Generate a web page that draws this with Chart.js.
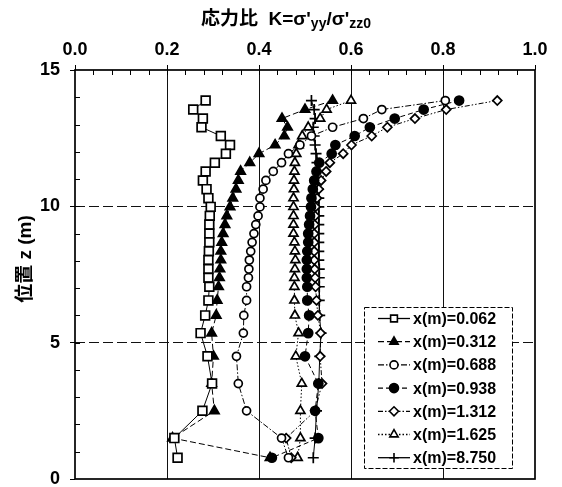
<!DOCTYPE html>
<html><head><meta charset="utf-8">
<script src="https://cdn.jsdelivr.net/npm/chart.js@4/dist/chart.umd.min.js"></script>
<style>html,body{margin:0;padding:0;background:#fff}canvas{display:block}</style>
</head><body>
<canvas id="c" width="562" height="487"></canvas>
<script>
// ---- data ----
const zPos = [13.88, 13.55, 13.22, 12.9, 12.58, 12.25, 11.93, 11.6, 11.28, 10.95, 10.63, 10.3, 9.98, 9.65, 9.33, 9.0, 8.68, 8.35, 8.03, 7.7, 7.38, 7.05, 6.55, 6.0, 5.35, 4.5, 3.5, 2.5, 1.5, 0.78];
const k_0062 = [0.284, 0.257, 0.278, 0.275, 0.317, 0.337, 0.328, 0.304, 0.284, 0.278, 0.286, 0.290, 0.295, 0.293, 0.292, 0.292, 0.292, 0.291, 0.290, 0.290, 0.290, 0.292, 0.290, 0.283, 0.273, 0.288, 0.298, 0.277, 0.216, 0.223];
const k_0312 = [0.560, 0.500, 0.450, 0.462, 0.455, 0.435, 0.400, 0.380, 0.360, 0.355, 0.350, 0.343, 0.337, 0.330, 0.326, 0.322, 0.319, 0.317, 0.317, 0.315, 0.314, 0.312, 0.309, 0.307, 0.297, 0.301, 0.297, 0.303, 0.212, 0.424];
const k_0688 = [0.805, 0.667, 0.627, 0.560, 0.514, 0.489, 0.464, 0.449, 0.431, 0.415, 0.409, 0.402, 0.402, 0.398, 0.393, 0.389, 0.385, 0.382, 0.379, 0.378, 0.377, 0.373, 0.373, 0.367, 0.366, 0.351, 0.355, 0.373, 0.449, 0.464];
const k_0938 = [0.835, 0.758, 0.695, 0.641, 0.608, 0.566, 0.558, 0.531, 0.525, 0.520, 0.517, 0.514, 0.513, 0.511, 0.509, 0.507, 0.507, 0.505, 0.504, 0.504, 0.504, 0.505, 0.505, 0.509, 0.507, 0.500, 0.529, 0.522, 0.529, 0.428];
const k_1312 = [0.918, 0.807, 0.739, 0.679, 0.645, 0.601, 0.583, 0.554, 0.546, 0.535, 0.530, 0.526, 0.523, 0.522, 0.521, 0.520, 0.520, 0.520, 0.520, 0.521, 0.522, 0.523, 0.525, 0.528, 0.534, 0.533, 0.537, 0.522, 0.459, 0.470];
const k_1625 = [0.600, 0.547, 0.533, 0.507, 0.494, 0.486, 0.481, 0.478, 0.477, 0.476, 0.476, 0.475, 0.475, 0.475, 0.475, 0.475, 0.477, 0.478, 0.479, 0.478, 0.477, 0.477, 0.477, 0.478, 0.486, 0.480, 0.493, 0.490, 0.490, 0.484];
const k_8750 = [0.514, 0.520, 0.522, 0.518, 0.520, 0.522, 0.524, 0.526, 0.527, 0.528, 0.529, 0.530, 0.530, 0.530, 0.530, 0.530, 0.530, 0.530, 0.530, 0.531, 0.531, 0.531, 0.531, 0.532, 0.535, 0.532, 0.530, 0.525, 0.522, 0.518];
const seriesLabels = ['x(m)=0.062', 'x(m)=0.312', 'x(m)=0.688', 'x(m)=0.938', 'x(m)=1.312', 'x(m)=1.625', 'x(m)=8.750'];
const xTickLabels = ['0.0', '0.2', '0.4', '0.6', '0.8', '1.0'];
const yTickLabels = ['0', '5', '10', '15'];
const yTitle = '位置 z (m)';

// ---- styles ----
const styles = [
  {pointStyle:'rect', radius:6.2, fill:'#fff', dash:[]},
  {pointStyle:'triangle', radius:5.4, fill:'#000', dash:[6,3]},
  {pointStyle:'circle', radius:4, fill:'#fff', dash:[6,2,1.5,2]},
  {pointStyle:'circle', radius:4.5, fill:'#000', dash:[5,3]},
  {pointStyle:'rectRot', radius:4.5, fill:'#fff', dash:[5,2,1.5,2,1.5,2]},
  {pointStyle:'triangle', radius:5.2, fill:'#fff', dash:[1.5,2]},
  {pointStyle:'cross', radius:5.5, fill:'#000', dash:[]}
];
const allK = [k_0062, k_0312, k_0688, k_0938, k_1312, k_1625, k_8750];

const datasets = allK.map((arr, i) => ({
  label: seriesLabels[i],
  data: arr.map((k, j) => ({x: k, y: zPos[j]})),
  showLine: true,
  borderColor: '#000',
  borderWidth: 1,
  borderDash: styles[i].dash,
  pointStyle: styles[i].pointStyle,
  pointRadius: styles[i].radius,
  pointBackgroundColor: styles[i].fill,
  pointBorderColor: '#000',
  pointBorderWidth: 1.7,
  tension: 0
}));

const FONT = '"Liberation Sans", Arial, "Noto Sans CJK JP", sans-serif';

function drawMarker(ctx, st, x, y) {
  ctx.save();
  ctx.fillStyle = st.fill; ctx.strokeStyle = '#000'; ctx.lineWidth = 1.6; ctx.setLineDash([]);
  if (Chart.helpers && Chart.helpers.drawPoint) {
    Chart.helpers.drawPoint(ctx, {pointStyle: st.pointStyle, radius: Math.min(st.radius, 4.8), rotation: 0, borderWidth: 1.6}, x, y);
  }
  ctx.restore();
}

const decor = {
  id: 'decor',
  afterDraw(chart) {
    const {ctx, chartArea: a, scales} = chart;
    const xs = scales.x, ys = scales.y;
    ctx.save();
    // frame
    ctx.strokeStyle = '#000'; ctx.lineWidth = 1.7; ctx.setLineDash([]);
    ctx.strokeRect(a.left, a.top, a.right - a.left, a.bottom - a.top);
    // minor ticks
    ctx.lineWidth = 1;
    ctx.beginPath();
    for (let v = 1; v < 15; v++) {
      const py = Math.round(ys.getPixelForValue(v)) + 0.5;
      ctx.moveTo(a.left, py); ctx.lineTo(a.left + 5, py);
    }
    for (let i = 1; i < 25; i++) {
      const px = Math.round(xs.getPixelForValue(i * 0.04)) + 0.5;
      ctx.moveTo(px, a.top); ctx.lineTo(px, a.top + 5);
    }
    ctx.stroke();

    // x title with subscripts
    const big = 'bold 19px ' + FONT, small = 'bold 14px ' + FONT;
    const parts = [
      {t: '応力比', f: big, dy: 0},
      {t: '  K=σ\'', f: big, dy: 0},
      {t: 'yy', f: small, dy: 3},
      {t: '/σ\'', f: big, dy: 0},
      {t: 'zz0', f: small, dy: 3}
    ];
    let w = 0;
    parts.forEach(p => { ctx.font = p.f; p.w = ctx.measureText(p.t).width; w += p.w; });
    let x = 286 - w / 2;
    ctx.fillStyle = '#000'; ctx.textBaseline = 'alphabetic'; ctx.textAlign = 'left';
    parts.forEach(p => { ctx.font = p.f; ctx.fillText(p.t, x, 25 + p.dy); x += p.w; });

    // y title
    ctx.save();
    ctx.translate(26, 259);
    ctx.rotate(-Math.PI / 2);
    ctx.font = 'bold 19px ' + FONT;
    ctx.textAlign = 'center'; ctx.textBaseline = 'middle';
    ctx.fillText(yTitle, 0, 0);
    ctx.restore();

    // legend
    const lx = 364, ly = 307, lw = 148, lh = 161;
    ctx.fillStyle = '#fff';
    ctx.fillRect(lx, ly, lw, lh);
    ctx.strokeStyle = '#000'; ctx.lineWidth = 1; ctx.setLineDash([5, 2]);
    ctx.strokeRect(lx + 0.5, ly + 0.5, lw, lh);
    ctx.setLineDash([]);
    for (let i = 0; i < seriesLabels.length; i++) {
      const ry = 318.5 + i * 23.2;
      ctx.strokeStyle = '#000'; ctx.lineWidth = 1.3;
      ctx.setLineDash(styles[i].dash);
      ctx.beginPath(); ctx.moveTo(378, ry); ctx.lineTo(410, ry); ctx.stroke();
      ctx.setLineDash([]);
      drawMarker(ctx, styles[i], 394, ry);
      ctx.fillStyle = '#000';
      ctx.font = 'bold 16px ' + FONT;
      ctx.textAlign = 'left'; ctx.textBaseline = 'middle';
      ctx.fillText(seriesLabels[i], 413, ry + 1);
    }
    ctx.restore();
  }
};

new Chart(document.getElementById('c'), {
  type: 'scatter',
  data: {datasets},
  plugins: [decor],
  options: {
    responsive: false,
    animation: false,
    devicePixelRatio: 1,
    layout: {padding: {left: 0, top: 0, right: 27, bottom: 8}},
    plugins: {legend: {display: false}, tooltip: {enabled: false}, title: {display: false}},
    scales: {
      x: {
        type: 'linear', position: 'top', min: 0, max: 1,
        afterBuildTicks: s => { s.ticks = xTickLabels.map(t => ({value: parseFloat(t)})); },
        ticks: {callback: (v, i) => xTickLabels[i], color: '#000', font: {family: FONT, size: 18, weight: 'bold'}, padding: 4, maxRotation: 0, autoSkip: false},
        grid: {color: c => (c.tick && (c.tick.value === 0 || c.tick.value === 1)) ? 'rgba(0,0,0,0)' : '#111', lineWidth: 1, drawTicks: true, tickLength: 5, tickColor: '#000', tickWidth: 1},
        border: {display: false},
        afterFit: s => { s.height = 70; s.paddingLeft = 0; s.paddingRight = 0; }
      },
      y: {
        type: 'linear', min: 0, max: 15,
        afterBuildTicks: s => { s.ticks = yTickLabels.map(t => ({value: parseFloat(t)})); },
        ticks: {callback: (v, i) => yTickLabels[i], color: '#000', font: {family: FONT, size: 18, weight: 'bold'}, padding: 10, autoSkip: false},
        grid: {color: c => (c.tick && (c.tick.value === 0 || c.tick.value === 15)) ? 'rgba(0,0,0,0)' : '#111', lineWidth: 1, drawTicks: true, tickLength: 5, tickColor: '#000', tickWidth: 1},
        border: {display: false, dash: [10, 4]},
        afterFit: s => { s.width = 75; s.paddingTop = 0; s.paddingBottom = 0; }
      }
    }
  }
});
</script>
</body></html>
